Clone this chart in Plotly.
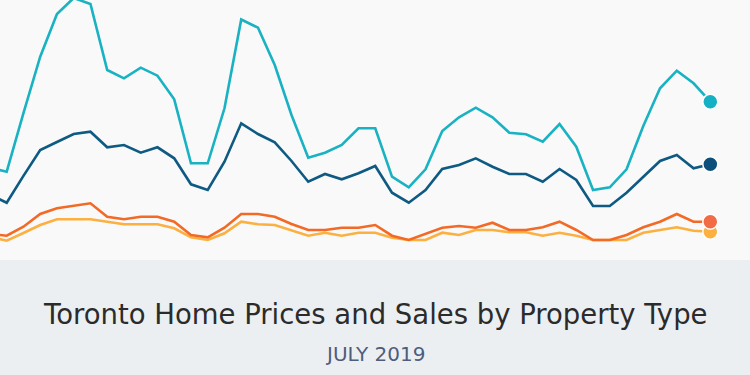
import plotly.graph_objects as go

# Months: Dec 2015 (just off the left edge) through Jul 2019
months = ["Dec 2015",
          "Jan 2016", "Feb 2016", "Mar 2016", "Apr 2016", "May 2016", "Jun 2016",
          "Jul 2016", "Aug 2016", "Sep 2016", "Oct 2016", "Nov 2016", "Dec 2016",
          "Jan 2017", "Feb 2017", "Mar 2017", "Apr 2017", "May 2017", "Jun 2017",
          "Jul 2017", "Aug 2017", "Sep 2017", "Oct 2017", "Nov 2017", "Dec 2017",
          "Jan 2018", "Feb 2018", "Mar 2018", "Apr 2018", "May 2018", "Jun 2018",
          "Jul 2018", "Aug 2018", "Sep 2018", "Oct 2018", "Nov 2018", "Dec 2018",
          "Jan 2019", "Feb 2019", "Mar 2019", "Apr 2019", "May 2019", "Jun 2019",
          "Jul 2019"]

# Relative index values (arbitrary units)
series_cyan = [82.4, 78.3, 136.8, 193.3, 236, 252, 246, 180, 171.7, 182.3, 174.3, 150.7, 86.7,
               86.7, 141.7, 230.5, 222.3, 185, 135, 92.3, 97.3, 105, 121.7, 121.7, 73.3,
               62.7, 80.7, 119, 132.7, 142.3, 132.7, 117.3, 115.7, 108.3, 126, 103.3, 60,
               62.7, 80.7, 124, 161.7, 179.3, 166.7, 148.3]
series_navy = [55.4, 47.3, 74.1, 100, 108, 116, 118.3, 102.7, 105, 97.3, 102.7, 91.7, 65.7,
               60, 88.3, 126.7, 116, 107.7, 89, 68.3, 76, 70.7, 76.7, 84, 57.3,
               47.3, 60, 81, 85, 91.7, 83.3, 76, 76, 68.3, 81, 70, 44,
               44, 57.3, 73.3, 89, 95, 81.7, 85.7]
series_orange = [16, 14.3, 23.3, 36, 41.7, 44.3, 46.7, 33.3, 30.7, 33.3, 33.3, 28.3, 15,
                 12.7, 22.3, 36, 36, 33.3, 26, 20, 20, 22.3, 22.3, 25, 14.3,
                 10, 16, 22.3, 24, 22.3, 27.3, 20, 20, 22.7, 28.3, 20, 10,
                 10, 15, 22.7, 28.3, 36, 28.3, 28.3]
series_yellow = [13.4, 9.3, 17, 25, 30.7, 30.7, 30.7, 28.3, 25.7, 25.7, 25.7, 21.7, 12.7,
                 10, 16.7, 28.3, 25.7, 25, 19.3, 14.3, 17.3, 14.3, 17.3, 17.3, 12.3,
                 10, 10, 17.3, 15, 20, 20, 17.7, 17.7, 14.3, 17.3, 14.3, 10,
                 10, 10, 17.3, 20, 22.7, 19.3, 18.3]

title_text = "Toronto Home Prices and Sales by Property Type"
subtitle_text = "JULY 2019"

line_specs = [
    (series_yellow, "#fbb040", "#fbb040"),
    (series_orange, "#f26a25", "#f26b45"),
    (series_navy, "#0e5a82", "#0b4f7a"),
    (series_cyan, "#19b2c2", "#14b0c4"),
]

fig = go.Figure()
for vals, lc, dc in line_specs:
    fig.add_trace(go.Scatter(x=months, y=vals, mode="lines",
                             line=dict(color=lc, width=2.6), hoverinfo="skip",
                             showlegend=False))

# end dots: cyan, navy, yellow, then orange on top
for vals, lc, dc in [line_specs[3], line_specs[2], line_specs[0], line_specs[1]]:
    fig.add_trace(go.Scatter(x=[months[-1]], y=[vals[-1]], mode="markers",
                             marker=dict(color=dc, size=15,
                                         line=dict(color="white", width=1.5)),
                             hoverinfo="skip", showlegend=False, cliponaxis=False))

fig.update_layout(
    width=750, height=375,
    margin=dict(l=0, r=0, t=0, b=0),
    paper_bgcolor="#ebeff2",
    plot_bgcolor="#f9f9f9",
    xaxis=dict(type="category", range=[0.6, 45.37], visible=False,
               showgrid=False, zeroline=False),
    yaxis=dict(range=[-10, 250], domain=[1 - 260 / 375, 1], visible=False,
               showgrid=False, zeroline=False),
    annotations=[
        dict(text=title_text, x=0.5, y=1 - 314 / 375, xref="paper", yref="paper",
             showarrow=False, xanchor="center", yanchor="middle",
             font=dict(family="DejaVu Sans", size=27.5, color="#2b2b2b")),
        dict(text=subtitle_text, x=0.5, y=1 - 354 / 375, xref="paper", yref="paper",
             showarrow=False, xanchor="center", yanchor="middle",
             font=dict(family="DejaVu Sans", size=20, color="#4f5c7c")),
    ],
)

fig.write_html("out.html", config={"displayModeBar": False},
               post_script="document.body.style.margin='0px';")
